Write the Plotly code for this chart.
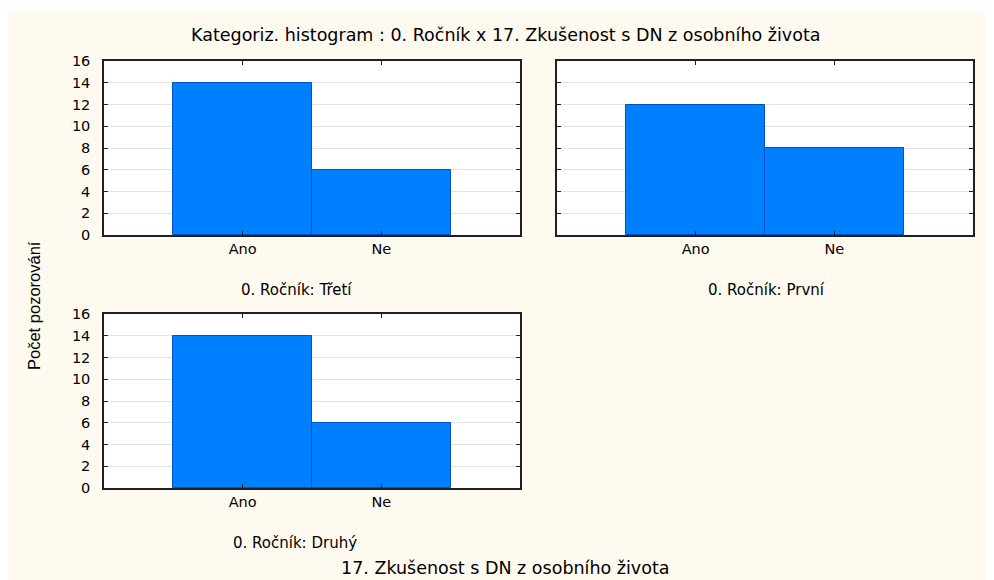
import plotly.graph_objects as go

# The page body has an 8px margin, so the figure is 8px smaller than the window
W, H = 986, 572
OFF = 8
categories = ["Ano", "Ne"]
panels = ["Třetí", "První", "Druhý"]
counts = {
    "Třetí": [14, 6],
    "První": [12, 8],
    "Druhý": [14, 6],
}
y_ticks = [0, 2, 4, 6, 8, 10, 12, 14, 16]

title = "Kategoriz. histogram : 0. Ročník x 17. Zkušenost s DN z osobního života"
x_title = "17. Zkušenost s DN z osobního života"
y_title = "Počet pozorování"

BAR = "#0080FF"
EDGE = "#0050C8"
CREAM = "#FFFAF0"
FONT = "DejaVu Sans, Liberation Sans, Arial, sans-serif"


def px(x):
    return (x - OFF) / W


def py(y):
    return 1 - (y - OFF) / H


# pixel boxes in window coords (x0, x1, ytop, ybottom)
boxes = [(104, 520, 61, 235), (557, 973, 61, 235), (104, 520, 314, 488)]
label_pos = [(296, 290), (766, 290), (295, 543)]

fig = go.Figure()
layout = dict(
    template="none",
    width=W, height=H,
    margin=dict(l=0, r=0, t=0, b=0, pad=0),
    paper_bgcolor=CREAM, plot_bgcolor="white",
    showlegend=False, bargap=0,
    font=dict(family=FONT, size=13, color="black"),
)
annotations = []
for i, (name, (x0, x1, yt, yb), (lx, ly)) in enumerate(zip(panels, boxes, label_pos), start=1):
    xa = "x" if i == 1 else f"x{i}"
    ya = "y" if i == 1 else f"y{i}"
    fig.add_trace(go.Bar(
        x=categories, y=counts[name], xaxis=xa, yaxis=ya,
        marker=dict(color=BAR, line=dict(color=EDGE, width=1)),
        width=1,
    ))
    layout["xaxis" if i == 1 else f"xaxis{i}"] = dict(
        domain=[px(x0), px(x1)], anchor=ya, type="category",
        range=[-1, 2], showline=True, linecolor="#202020", linewidth=1.5,
        mirror="ticks", ticks="inside", ticklen=4, tickcolor="#202020",
        showgrid=False, tickfont=dict(size=14.5), ticklabelstandoff=0,
        automargin=False, zeroline=False,
    )
    layout["yaxis" if i == 1 else f"yaxis{i}"] = dict(
        domain=[py(yb), py(yt)], anchor=xa,
        range=[0, 16], tickvals=y_ticks, showline=True, linecolor="#202020",
        linewidth=1.5, mirror="ticks", ticks="inside", ticklen=4,
        tickcolor="#202020", showgrid=True, gridcolor="#E2E2E2",
        zeroline=False, showticklabels=(i != 2), tickfont=dict(size=14.5),
        ticklabelstandoff=9, automargin=False,
    )
    annotations.append(dict(
        text=f"0. Ročník: {name}", x=px(lx), y=py(ly), xref="paper",
        yref="paper", showarrow=False, xanchor="center", yanchor="middle",
        font=dict(size=15),
    ))

annotations.append(dict(text=title, x=px(505), y=py(35), xref="paper",
                        yref="paper", showarrow=False, xanchor="center",
                        yanchor="middle", font=dict(size=17.5)))
annotations.append(dict(text=x_title, x=px(506), y=py(568), xref="paper",
                        yref="paper", showarrow=False, xanchor="center",
                        yanchor="middle", font=dict(size=17.5)))
annotations.append(dict(text=y_title, x=px(34), y=py(306), xref="paper",
                        yref="paper", showarrow=False, xanchor="center",
                        yanchor="middle", textangle=-90,
                        font=dict(size=16.5, family="Liberation Sans, Arial, sans-serif")))
layout["annotations"] = annotations
layout["shapes"] = [
    dict(type="rect", xref="paper", yref="paper", x0=0, x1=1, y0=py(12), y1=1,
         fillcolor="white", line=dict(width=0), layer="below"),
]
fig.update_layout(**layout)
fig.write_html("out.html")
